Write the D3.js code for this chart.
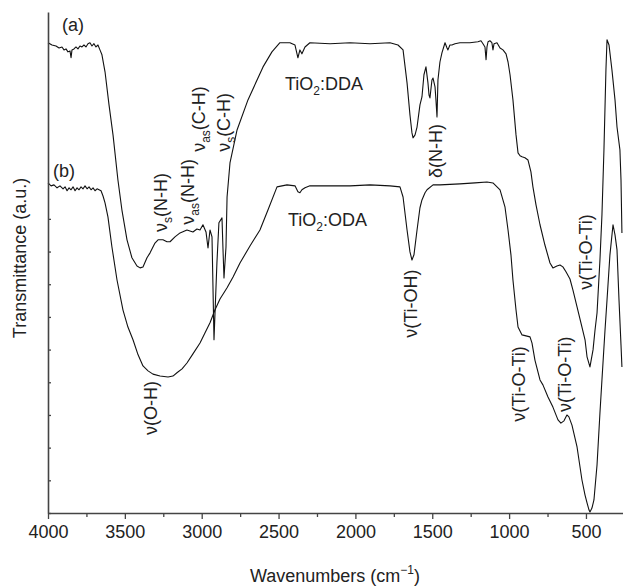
<!DOCTYPE html>
<html>
<head>
<meta charset="utf-8">
<script src="https://cdn.jsdelivr.net/npm/d3@7"></script>
<style>
  body { margin: 0; background: #fff; }
  svg { display: block; font-family: "Liberation Sans", Arial, sans-serif; }
</style>
</head>
<body>
<svg width="623" height="586"></svg>
<script>
// spectre (a) TiO2:DDA
const waveDDA = [4000,3974,3948,3928,3909,3896,3883,3870,3857,3850,3844,3831,3818,3805,3792,3779,3766,3753,3740,3727,3714,3701,3688,3675,3662,3649,3629,3603,3577,3545,3519,3486,3454,3421,3401,3382,3356,3336,3304,3284,3252,3226,3206,3174,3141,3096,3057,3031,3011,2992,2972,2959,2946,2933,2920,2901,2888,2868,2862,2855,2842,2835,2816,2770,2699,2601,2543,2491,2426,2393,2374,2361,2348,2328,2296,2165,2035,1905,1775,1723,1690,1664,1645,1632,1625,1612,1599,1580,1567,1554,1541,1528,1521,1515,1502,1495,1482,1476,1469,1463,1450,1437,1417,1404,1398,1385,1372,1352,1320,1255,1203,1183,1170,1157,1150,1144,1137,1125,1112,1105,1098,1079,1059,1040,1020,1007,994,975,955,942,929,916,897,877,858,845,825,799,767,734,715,689,669,650,630,604,585,558,526,506,493,474,454,441,428,409,396,383,370,363,350,331,311,298,279,272,266];
const transDDA = [14.39,14.32,14.29,14.23,14.26,14.17,14.20,14.11,14.14,13.93,14.17,14.20,14.26,14.20,14.29,14.26,14.32,14.26,14.36,14.39,14.29,14.36,14.26,14.32,14.17,14.02,13.50,12.49,11.57,10.19,9.27,8.36,7.81,7.56,7.50,7.53,7.81,7.96,8.26,8.36,8.36,8.30,8.30,8.45,8.57,8.66,8.60,8.69,8.66,8.82,8.60,8.11,8.66,8.45,5.30,7.65,8.88,9.03,8.14,7.19,8.14,9.67,10.71,11.72,12.64,13.65,14.11,14.39,14.39,14.32,13.93,14.17,14.05,14.26,14.39,14.36,14.39,14.36,14.39,14.32,14.17,13.16,12.18,11.63,11.48,11.57,11.81,12.49,12.73,13.41,13.65,13.16,12.79,12.70,13.25,13.31,13.04,12.64,12.12,13.25,13.80,14.08,14.39,14.23,14.17,14.32,14.32,14.36,14.39,14.39,14.42,14.45,14.36,14.26,13.87,14.26,14.42,14.45,14.39,14.17,14.36,14.39,14.23,14.17,14.05,13.80,13.41,12.64,11.57,11.02,10.93,10.90,10.87,10.80,10.44,9.98,9.43,8.82,8.20,7.65,7.50,7.56,7.59,7.53,7.38,7.16,6.83,6.31,5.69,5.30,4.78,4.47,4.99,5.60,6.12,7.74,9.12,11.11,13.56,14.48,14.32,13.56,12.64,11.81,11.11,10.19,8.57];

// spectre (b) TiO2:ODA
const waveODA = [4000,3980,3961,3941,3922,3902,3889,3876,3863,3850,3837,3824,3811,3798,3785,3772,3759,3746,3733,3720,3707,3694,3681,3668,3655,3642,3629,3610,3584,3551,3512,3480,3447,3414,3382,3349,3317,3271,3219,3187,3161,3128,3096,3057,3011,2979,2946,2914,2881,2835,2796,2751,2686,2621,2569,2510,2445,2393,2374,2361,2348,2328,2296,2165,2035,1905,1775,1710,1690,1664,1645,1632,1619,1599,1580,1567,1547,1534,1495,1450,1320,1222,1144,1105,1059,1027,1007,988,975,955,942,916,890,864,851,832,799,780,747,715,682,663,643,624,611,591,558,526,506,493,480,474,461,448,428,409,396,376,363,344,324,311,298,285,272,266];
const transODA = [10.10,10.01,10.04,9.95,10.01,9.92,9.98,9.86,9.95,9.89,9.98,9.86,9.95,9.89,9.98,9.92,10.01,9.92,9.98,9.89,9.95,9.86,9.92,9.89,9.86,9.70,9.49,9.06,8.14,7.13,6.21,5.69,5.30,4.84,4.50,4.35,4.25,4.19,4.16,4.19,4.29,4.41,4.59,4.87,5.20,5.51,5.82,6.21,6.55,6.89,7.22,7.65,8.17,8.66,9.27,9.98,10.04,10.01,9.83,9.80,9.89,9.95,10.01,10.01,10.01,10.04,10.01,9.98,9.67,8.66,7.99,7.74,7.90,8.66,9.34,9.58,9.80,9.89,10.04,10.04,10.07,10.10,10.13,10.10,9.89,9.37,8.66,7.90,7.13,6.21,5.69,5.45,5.42,5.39,5.20,4.68,4.07,3.92,3.55,3.24,2.85,2.75,2.82,3.00,2.94,2.69,2.02,1.01,0.55,0.31,0.09,0.03,0.15,0.40,1.47,3.06,4.07,5.60,6.52,7.90,8.82,8.51,8.05,6.52,5.14,4.47];

// graduations
const xMajorTicks = [4000,3500,3000,2500,2000,1500,1000,500];
const xMinorTicks = [3750,3250,2750,2250,1750,1250,750];
const yTicks = [0,1,2,3,4,5,6,7,8,9];

// étiquettes verticales : [nombre d'onde, transmittance, texte, indice, suite]
const bandLabels = [
  [3291, 2.39, "ν", "", "(O-H)"],
  [3226, 8.60, "ν", "s", "(N-H)"],
  [3050, 8.82, "ν", "as", "(N-H)"],
  [2979, 11.05, "ν", "as", "(C-H)"],
  [2816, 11.05, "ν", "s", "(C-H)"],
  [1437, 10.25, "δ", "", "(N-H)"],
  [1599, 5.36, "ν", "", "(Ti-OH)"],
  [897, 2.79, "ν", "", "(Ti-O-Ti)"],
  [598, 3.09, "ν", "", "(Ti-O-Ti)"],
  [461, 6.83, "ν", "", "(Ti-O-Ti)"]
];
// étiquettes horizontales
const sampleLabels = [
  [2458, 12.95, "TiO", "2", ":DDA"],
  [2439, 8.78, "TiO", "2", ":ODA"],
  [3909, 14.75, "(a)", "", ""],
  [3967, 10.28, "(b)", "", ""]
];

const svg = d3.select("svg");
const x = d3.scaleLinear().domain([4000, 259]).range([48, 623]);
const y = d3.scaleLinear().domain([0, 15.33]).range([513, 12]);

const line = d3.line().x(d => x(d[0])).y(d => y(d[1]));

function trace(w, t){
    svg.append("path")
       .datum(d3.zip(w, t))
       .attr("d", line)
       .attr("fill", "none")
       .attr("stroke", "#111")
       .attr("stroke-width", 1.1)
       .attr("stroke-linejoin", "round");
}
trace(waveDDA, transDDA);
trace(waveODA, transODA);

// axes
const gx = svg.append("g").attr("transform", "translate(0,513)");
gx.call(d3.axisBottom(x).tickValues(xMajorTicks).tickSize(6).tickSizeOuter(0).tickPadding(6).tickFormat(d3.format("d")));
gx.append("g").call(d3.axisBottom(x).tickValues(xMinorTicks).tickSize(4).tickSizeOuter(0).tickFormat(""))
  .select(".domain").remove();
gx.selectAll("text").attr("font-size", 18).attr("fill", "#222").attr("font-family", "Liberation Sans, Arial, sans-serif");

const gy = svg.append("g").attr("transform", "translate(48,0)");
gy.call(d3.axisLeft(y).tickValues(yTicks).tickSize(-3).tickSizeOuter(0).tickFormat(""));

svg.selectAll(".domain").attr("stroke", "#444").attr("stroke-width", 1.6);
svg.selectAll(".tick line").attr("stroke", "#444").attr("stroke-width", 1.3);

// titres des axes
const xt = svg.append("text")
   .attr("x", 335).attr("y", 582)
   .attr("text-anchor", "middle")
   .attr("font-size", 18).attr("fill", "#222")
   .text("Wavenumbers (cm");
xt.append("tspan").attr("font-size", 12).attr("dy", -8).text("−1");
xt.append("tspan").attr("dy", 8).text(")");

svg.append("text")
   .attr("transform", "translate(26,258) rotate(-90)")
   .attr("text-anchor", "middle")
   .attr("font-size", 18).attr("fill", "#222")
   .text("Transmittance (a.u.)");

// étiquettes
function label(g, d){
    const t = g.append("text").attr("font-size", 18).attr("fill", "#222").text(d[2]);
    if (d[3]) t.append("tspan").attr("font-size", 12).attr("dy", 5).text(d[3]);
    if (d[4]) t.append("tspan").attr("dy", d[3] ? -5 : 0).text(d[4]);
}
bandLabels.forEach(d => {
    const g = svg.append("g").attr("transform", `translate(${x(d[0])},${y(d[1])}) rotate(-90)`);
    label(g, d);
});
sampleLabels.forEach(d => {
    const g = svg.append("g").attr("transform", `translate(${x(d[0])},${y(d[1])})`);
    label(g, d);
});
</script>
</body>
</html>
